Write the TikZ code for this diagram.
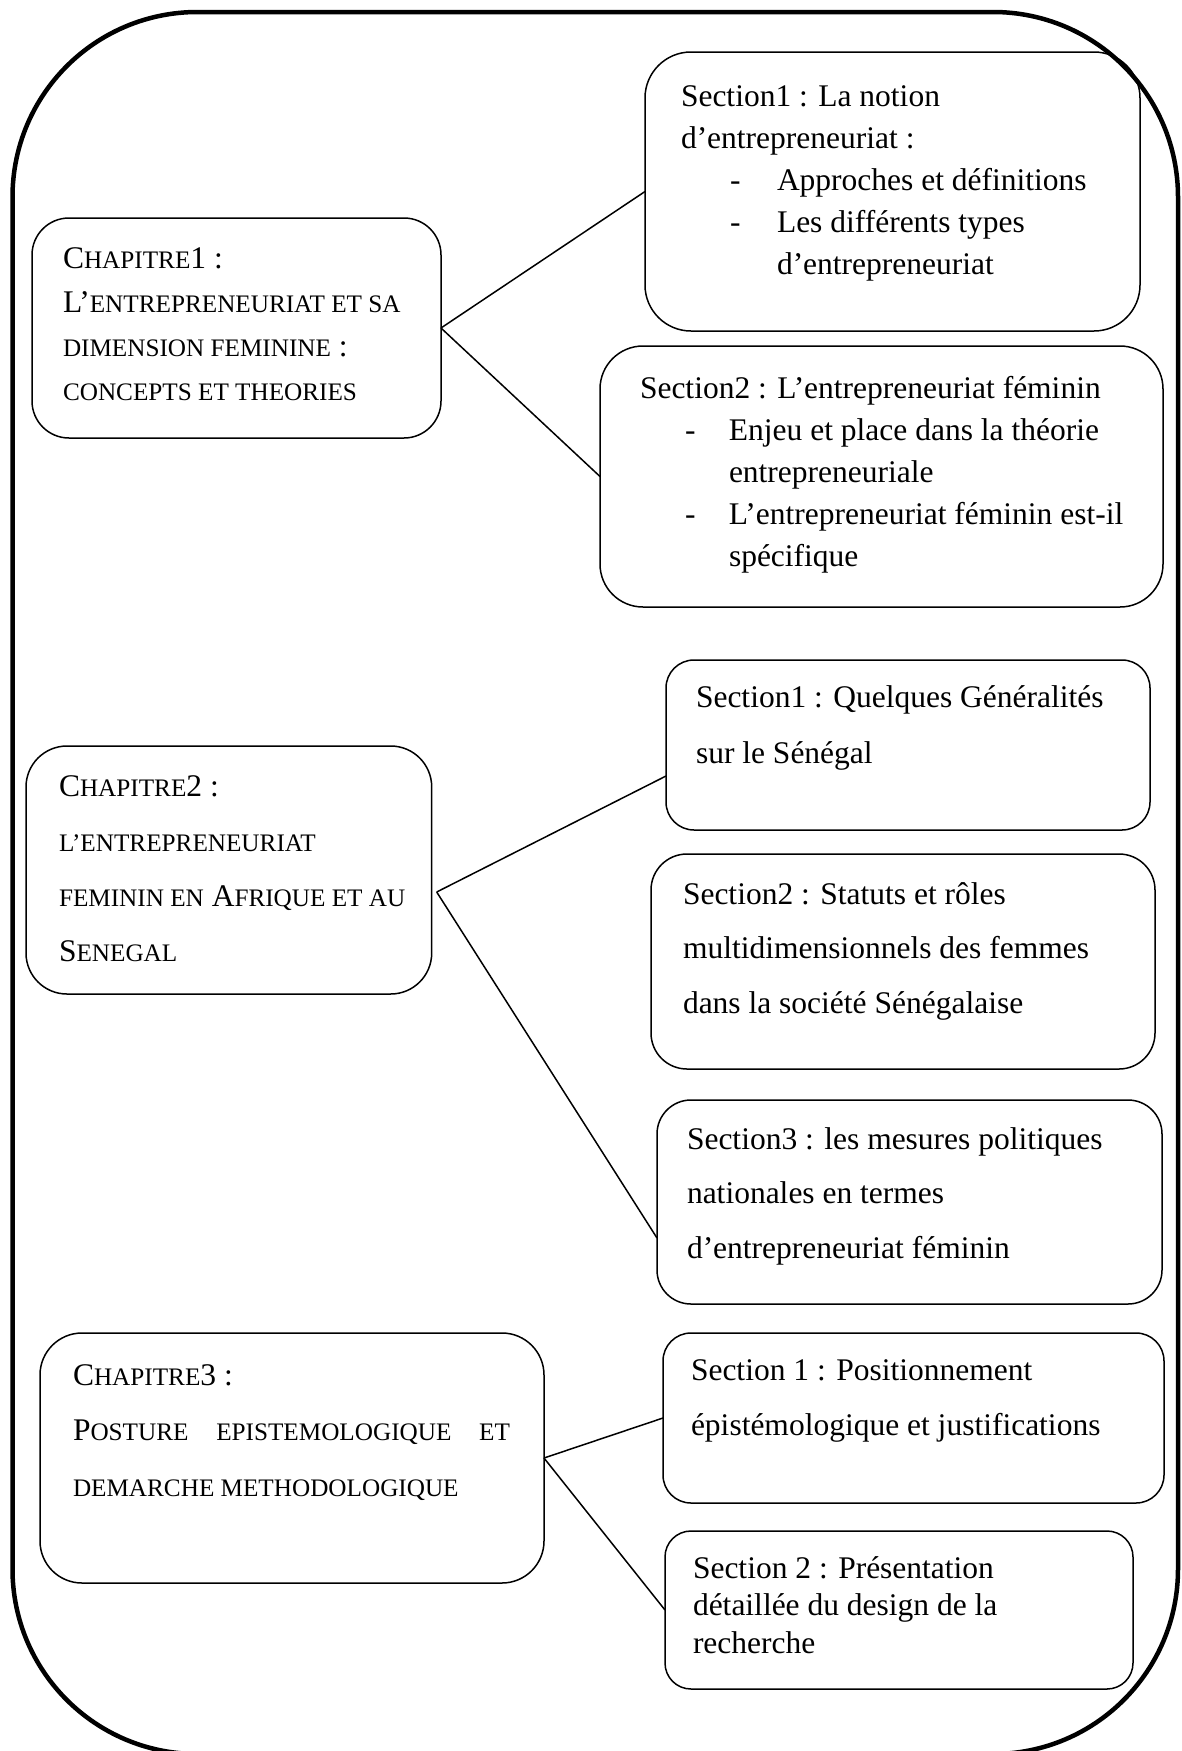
\documentclass[tikz,border=0pt]{standalone}
\usepackage{fontspec}
\setmainfont{Liberation Serif}
\newcommand\smc[1]{{\fontsize{25.2pt}{30pt}\selectfont #1}}
\newcommand\boxlines[2]{\vtop{\baselineskip=#1\lineskiplimit=-1000pt\lineskip=0pt\halign{##\hfil\cr#2\crcr}}}
\newcommand\dashitem[2]{\hbox to #2{\hskip#1-\hfil}}
\begin{document}
\begin{tikzpicture}[x=1pt,y=-1pt]
\tikzset{
  frame/.style={draw, line width=4.5pt, rounded corners=185pt},
  chbox/.style={draw, line width=1.5pt, inner sep=0pt, outer sep=0pt},
  txt/.style={anchor=base west, inner sep=0pt, outer sep=0pt, font=\fontsize{31.5pt}{42pt}\selectfont},
  link/.style={line width=1.5pt},
}
\useasboundingbox (0,0) rectangle (1181,1751);
\clip (0,0) rectangle (1181,1751);
\draw[frame] (12.5,12) rectangle (1178,1754);

% boxes
\node[chbox, rounded corners=37pt, minimum width=409pt, minimum height=220pt] (ch1) at (236.5,328) {};
\node[chbox, rounded corners=46pt, minimum width=495pt, minimum height=279pt] (s11) at (892.5,191.5) {};
\node[chbox, rounded corners=43pt, minimum width=563pt, minimum height=261pt] (s12) at (881.5,476.5) {};
\node[chbox, rounded corners=41pt, minimum width=405.7pt, minimum height=248pt] (ch2) at (228.85,870) {};
\node[chbox, rounded corners=28pt, minimum width=484pt, minimum height=170pt] (s21) at (908,745) {};
\node[chbox, rounded corners=36pt, minimum width=504pt, minimum height=215pt] (s22) at (903,961.5) {};
\node[chbox, rounded corners=34pt, minimum width=505pt, minimum height=204pt] (s23) at (909.5,1202) {};
\node[chbox, rounded corners=42pt, minimum width=504pt, minimum height=250pt] (ch3) at (292,1458) {};
\node[chbox, rounded corners=28pt, minimum width=501pt, minimum height=170pt] (s31) at (913.5,1418) {};
\node[chbox, rounded corners=26pt, minimum width=468pt, minimum height=158pt] (s32) at (899,1610) {};

% connectors
\draw[link] (ch1.east) -- (s11.west);
\draw[link] (ch1.east) -- (s12.west);
\coordinate (j2) at ([xshift=5pt,yshift=-22pt]ch2.east);
\draw[link] (j2) -- ([yshift=-31pt]s21.west);
\draw[link] (j2) -- ([yshift=-36pt]s23.west);
\draw[link] (ch3.east) -- (s31.west);
\draw[link] (ch3.east) -- (s32.west);

% texts
\node[txt] (t1) at (63,268) {\boxlines{44pt}{C\smc{HAPITRE}1 :\cr L’\smc{ENTREPRENEURIAT ET SA}\cr \smc{DIMENSION FEMININE} :\cr \smc{CONCEPTS ET THEORIES}}};
\node[txt] (t11) at (681,106) {\boxlines{42.2pt}{Section1 : La notion\cr d’entrepreneuriat :\cr \dashitem{49pt}{96pt}Approches et définitions\cr \dashitem{49pt}{96pt}Les différents types\cr \hskip96pt d’entrepreneuriat}};
\node[txt] (t12) at (640,398) {\boxlines{42pt}{Section2 : L’entrepreneuriat féminin\cr \dashitem{45pt}{89pt}Enjeu et place dans la théorie\cr \hskip89pt entrepreneuriale\cr \dashitem{45pt}{89pt}L’entrepreneuriat féminin est-il\cr \hskip89pt spécifique}};
\node[txt] (t2) at (59,796) {\boxlines{55pt}{C\smc{HAPITRE}2 :\cr \smc{L’ENTREPRENEURIAT}\cr \smc{FEMININ EN} A\smc{FRIQUE ET AU}\cr S\smc{ENEGAL}}};
\node[txt] (t21) at (696,707) {\boxlines{56pt}{Section1 : Quelques Généralités\cr sur le Sénégal}};
\node[txt] (t22) at (683,904) {\boxlines{54.5pt}{Section2 : Statuts et rôles\cr multidimensionnels des femmes\cr dans la société Sénégalaise}};
\node[txt] (t23) at (687,1149) {\boxlines{54.5pt}{Section3 : les mesures politiques\cr nationales en termes\cr d’entrepreneuriat féminin}};
\node[txt] (t3) at (73,1385) {\boxlines{55.5pt}{C\smc{HAPITRE}3 :\cr \hbox to 437pt{P\smc{OSTURE}\hfil\smc{EPISTEMOLOGIQUE}\hfil\smc{ET}}\cr \smc{DEMARCHE METHODOLOGIQUE}}};
\node[txt] (t31) at (691,1380) {\boxlines{55pt}{Section 1 : Positionnement\cr épistémologique et justifications}};
\node[txt] (t32) at (693,1578) {\boxlines{37.5pt}{Section 2 : Présentation\cr détaillée du design de la\cr recherche}};
\end{tikzpicture}
\end{document}
